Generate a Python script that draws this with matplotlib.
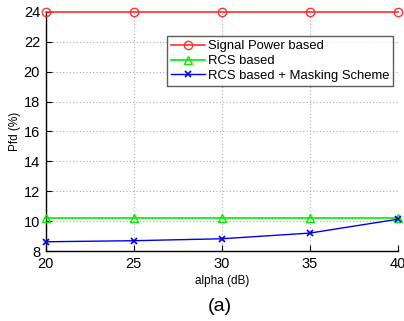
import matplotlib
matplotlib.use("Agg")
import matplotlib.pyplot as plt

plt.rcParams['font.family'] = ['Liberation Sans', 'DejaVu Sans']

alpha_db = [20, 25, 30, 35, 40]
signal_power = [24.0, 24.0, 24.0, 24.0, 24.0]
rcs_based = [10.2, 10.2, 10.2, 10.2, 10.2]
rcs_masking = [8.62, 8.69, 8.82, 9.2, 10.13]
y_ticks = [8, 10, 12, 14, 16, 18, 20, 22, 24]
x_ticks = [20, 25, 30, 35, 40]

fig = plt.figure(figsize=(4.04, 3.21), dpi=100)
ax = fig.add_axes([0.113, 0.218, 0.872, 0.745])

ax.plot(alpha_db, signal_power, color='#ff3030', marker='o', markersize=6,
        markerfacecolor='none', markeredgewidth=1.0, linewidth=1.2,
        label='Signal Power based', clip_on=False, zorder=5)
ax.plot(alpha_db, rcs_based, color='#00ee00', marker='^', markersize=6,
        markerfacecolor='none', markeredgewidth=1.0, linewidth=1.2,
        label='RCS based', clip_on=False, zorder=5)
ax.plot(alpha_db, rcs_masking, color='#0000ee', marker='x', markersize=4,
        markeredgewidth=1.2, linewidth=1.0,
        label='RCS based + Masking Scheme', clip_on=False, zorder=5)

ax.set_xlim(20, 40)
ax.set_ylim(8, 24)
ax.set_xticks(x_ticks)
ax.set_yticks(y_ticks)
ax.grid(True, color='#aaaaaa', linestyle=(0, (1, 2)), linewidth=0.8)
ax.spines['top'].set_visible(False)
ax.spines['right'].set_visible(False)
ax.spines['left'].set_linewidth(1.0)
ax.spines['bottom'].set_linewidth(1.0)
ax.tick_params(direction='in', length=4, labelsize=10.5, pad=4,
               top=False, right=False)
ax.set_xlabel('alpha (dB)', fontsize=8.5, labelpad=3)
ax.set_ylabel('Pfd (%)', fontsize=8.5, labelpad=2)

leg = ax.legend(loc='upper left', bbox_to_anchor=(0.345, 0.898), fontsize=9.4,
                frameon=True, fancybox=False, edgecolor='#333333',
                handlelength=2.6, handletextpad=0.2, borderpad=0.3,
                labelspacing=0.2, borderaxespad=0.0)
leg.get_frame().set_linewidth(1.0)

fig.text(0.545, 0.045, '(a)', fontsize=14, ha='center', va='center')

fig.savefig('out.png', dpi=100)
